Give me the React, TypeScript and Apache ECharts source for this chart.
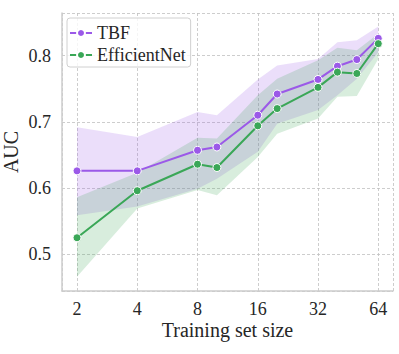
import React, { useEffect, useRef } from "react";
import * as echarts from "echarts";

const sizes = [2, 4, 8, 10, 16, 20, 32, 40, 50, 64];
const xTicks = [2, 4, 8, 16, 32, 64];
const yTicks = [0.5, 0.6, 0.7, 0.8];

const tbfMean = [0.626, 0.626, 0.657, 0.662, 0.710, 0.742, 0.764, 0.784, 0.794, 0.826];
const tbfLow = [0.559, 0.572, 0.599, 0.614, 0.655, 0.697, 0.718, 0.740, 0.765, 0.805];
const tbfHigh = [0.692, 0.677, 0.715, 0.710, 0.764, 0.785, 0.795, 0.820, 0.823, 0.844];

const effMean = [0.525, 0.596, 0.636, 0.631, 0.694, 0.720, 0.752, 0.775, 0.773, 0.818];
const effLow = [0.466, 0.569, 0.597, 0.589, 0.647, 0.682, 0.705, 0.738, 0.739, 0.795];
const effHigh = [0.586, 0.623, 0.676, 0.675, 0.740, 0.765, 0.793, 0.812, 0.808, 0.833];

const PURPLE = "#9b59e8";
const GREEN = "#3aa757";
const FONT = "'Liberation Serif', 'DejaVu Serif', serif";

export default function App() {
  const ref = useRef<HTMLDivElement>(null);
  useEffect(() => {
    if (!ref.current) return;
    const chart = echarts.init(ref.current, undefined, { renderer: "svg" });
    const pts = (arr: number[]) => sizes.map((s, i) => [s, arr[i]]);
    const band = (name: string, lo: number[], hi: number[], color: string) => ({
      name: name + "_band",
      type: "custom",
      silent: true,
      data: sizes.map((s, i) => [s, lo[i], hi[i]]),
      encode: { x: 0, y: [1, 2] },
      renderItem: (params: any, api: any) => {
        if (params.dataIndex !== 0) return null;
        const upper = sizes.map((s, i) => api.coord([s, hi[i]]));
        const lower = sizes.map((s, i) => api.coord([s, lo[i]])).reverse();
        return {
          type: "polygon",
          shape: { points: upper.concat(lower) },
          style: { fill: color, stroke: "none" },
        };
      },
      z: 1,
    });
    const line = (name: string, arr: number[], color: string) => ({
      name,
      type: "line",
      data: pts(arr),
      symbol: "circle",
      symbolSize: 8,
      itemStyle: { color, borderColor: "#ffffff", borderWidth: 1 },
      lineStyle: { color, width: 2 },
      z: 5,
    });
    chart.setOption({
      animation: false,
      backgroundColor: "#ffffff",
      grid: { left: 62, right: 6, top: 13, bottom: 63, containLabel: false, outerBoundsMode: "none" },
      legend: {
        data: ["TBF", "EfficientNet"],
        orient: "vertical",
        left: 67,
        top: 18,
        padding: [6, 5, 3, 2],
        itemGap: 4,
        itemWidth: 22,
        itemHeight: 10,
        borderColor: "#d0d0d0",
        borderWidth: 1,
        borderRadius: 3,
        backgroundColor: "rgba(255,255,255,0.8)",
        textStyle: { fontFamily: FONT, fontSize: 18, color: "#262626", lineHeight: 18 },
      },
      xAxis: {
        type: "log",
        logBase: 2,
        min: 1.683,
        max: 75.8,
        name: "Training set size",
        nameLocation: "middle",
        nameGap: 29,
        nameMoveOverlap: false,
        nameTextStyle: { fontFamily: FONT, fontSize: 20, color: "#262626" },
        axisLine: { show: true, lineStyle: { color: "#cccccc", width: 1.5 } },
        axisTick: { show: false },
        axisLabel: {
          fontFamily: FONT,
          fontSize: 18,
          color: "#262626",
          margin: 9,
          showMinLabel: false,
          showMaxLabel: false,
          formatter: (v: number) => (xTicks.includes(Math.round(v)) ? String(Math.round(v)) : ""),
        },
        splitLine: { show: true, lineStyle: { color: "#c0c0c0", type: [3, 2], width: 0.8 } },
      },
      yAxis: {
        type: "value",
        min: 0.4446,
        max: 0.8643,
        name: "AUC",
        nameLocation: "middle",
        nameGap: 41,
        nameMoveOverlap: false,
        nameTextStyle: { fontFamily: FONT, fontSize: 20, color: "#262626" },
        axisLine: { show: true, lineStyle: { color: "#cccccc", width: 1.5 } },
        axisTick: { show: false },
        axisLabel: {
          fontFamily: FONT,
          fontSize: 18,
          color: "#262626",
          margin: 11,
          showMinLabel: false,
          showMaxLabel: false,
          formatter: (v: number) => (yTicks.some((t) => Math.abs(t - v) < 1e-6) ? v.toFixed(1) : ""),
        },
        splitLine: { show: true, lineStyle: { color: "#c0c0c0", type: [3, 2], width: 0.8 } },
      },
      series: [
        band("TBF", tbfLow, tbfHigh, "rgba(155,89,232,0.2)"),
        band("EfficientNet", effLow, effHigh, "rgba(58,167,87,0.2)"),
        line("TBF", tbfMean, PURPLE),
        line("EfficientNet", effMean, GREEN),
      ],
    });
    return () => chart.dispose();
  }, []);
  return <div ref={ref} style={{ position: "fixed", left: 0, top: 0, width: 399, height: 354 }} />;
}
